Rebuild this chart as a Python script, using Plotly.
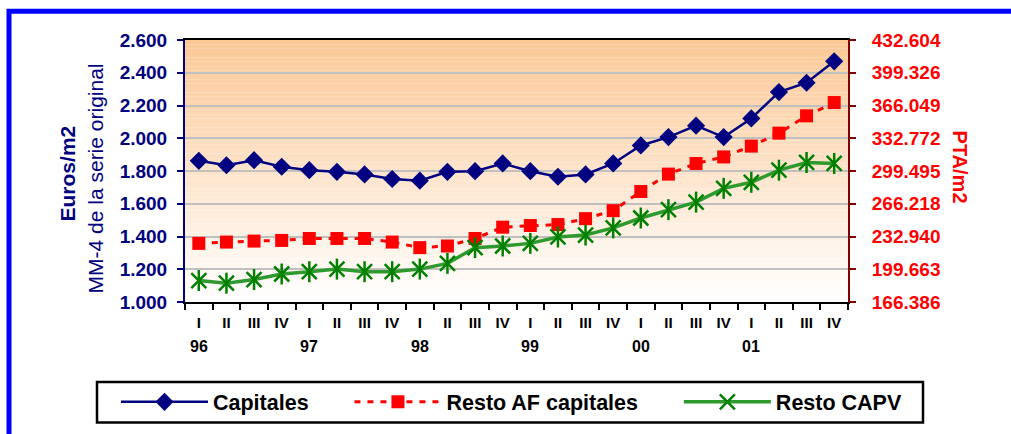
import plotly.graph_objects as go

# Quarterly series, 1996-2001 (euros per m2, four-quarter moving average)
years = ["96", "97", "98", "99", "00", "01"]
quarters = ["I", "II", "III", "IV"]

capitales = [1862, 1835, 1866, 1826, 1805, 1795, 1779, 1751, 1741, 1795, 1799, 1846,
             1799, 1765, 1779, 1846, 1956, 2007, 2077, 2007, 2121, 2282, 2339, 2470]
resto_af = [1358, 1366, 1372, 1376, 1388, 1388, 1388, 1366, 1332, 1342, 1388, 1457,
            1467, 1473, 1509, 1558, 1675, 1781, 1846, 1886, 1952, 2031, 2137, 2218]
resto_capv = [1131, 1115, 1137, 1171, 1185, 1201, 1185, 1185, 1201, 1236, 1332, 1342,
              1358, 1397, 1409, 1453, 1513, 1564, 1610, 1694, 1731, 1805, 1852, 1846]

# Left axis (euros) and right axis (pesetas) ticks
euro_ticks = [1000, 1200, 1400, 1600, 1800, 2000, 2200, 2400, 2600]
euro_labels = ["1.000", "1.200", "1.400", "1.600", "1.800", "2.000", "2.200", "2.400", "2.600"]
pta_labels = ["166.386", "199.663", "232.940", "266.218", "299.495",
              "332.772", "366.049", "399.326", "432.604"]
EUR_TO_PTA = 166.386

categories = [f"{q} {y}" for y in years for q in quarters]
tick_text = [q for y in years for q in quarters]

W, H = 1011, 434
PL, PR, PT, PB = 185, 848, 40, 305


def px_x(px):
    return (px - PL) / (PR - PL)


def px_y(py):
    return (PB - py) / (PB - PT)


NAVY = "#000080"
RED = "#FF0000"
GREEN = "#008000"
FONT = "Liberation Sans, Arial, sans-serif"
PAD = "\u00a0" * 6  # spacing between legend entries

fig = go.Figure()

fig.add_trace(go.Scatter(
    x=categories, y=capitales, name="Capitales" + PAD, mode="lines+markers",
    line=dict(color=NAVY, width=2.5),
    marker=dict(symbol="diamond", size=14, color=NAVY),
))
fig.add_trace(go.Scatter(
    x=categories, y=resto_af, name="Resto AF capitales" + PAD, mode="lines+markers",
    line=dict(color=RED, width=3, dash="6px,7px"),
    marker=dict(symbol="square", size=13, color=RED),
))
fig.add_trace(go.Scatter(
    x=categories, y=resto_capv, name="Resto CAPV", mode="lines+markers",
    line=dict(color="#2E9A2E", width=3.5),
    marker=dict(symbol="x-thin-open", size=15, color=GREEN,
                line=dict(color=GREEN, width=2.5)),
))
# vertical stroke completing the star marker
fig.add_trace(go.Scatter(
    x=categories, y=resto_capv, mode="markers", showlegend=False, hoverinfo="skip",
    marker=dict(symbol="line-ns-open", size=15, color=GREEN,
                line=dict(color=GREEN, width=2.5)),
))
# invisible trace carrying the peseta axis
fig.add_trace(go.Scatter(
    x=categories, y=[v * EUR_TO_PTA for v in capitales], yaxis="y2",
    mode="none", showlegend=False, hoverinfo="skip",
))

# Plot-area gradient: peach at the top fading to white at the bottom
shapes = []
n = 60
top = (252, 200, 150)
bot = (255, 255, 255)
for i in range(n):
    t = i / (n - 1)
    c = tuple(round(top[k] + (bot[k] - top[k]) * t) for k in range(3))
    shapes.append(dict(
        type="rect", xref="paper", yref="paper", layer="below",
        x0=0, x1=1, y0=1 - (i + 1) / n, y1=1 - i / n,
        line=dict(width=0), fillcolor=f"rgb{c}",
    ))
# outer blue frame
shapes.append(dict(
    type="rect", xref="paper", yref="paper", layer="above",
    x0=px_x(9), y0=px_y(11), x1=px_x(1040), y1=px_y(470),
    line=dict(color="#0000FF", width=5), fillcolor="rgba(0,0,0,0)",
))
# legend box
shapes.append(dict(
    type="rect", xref="paper", yref="paper", layer="below",
    x0=px_x(97), y0=px_y(386), x1=px_x(923), y1=px_y(427),
    line=dict(color="black", width=2.5), fillcolor="white",
))

annotations = [
    dict(text="<b>Euros/m2</b>", xref="paper", yref="paper", x=px_x(67), y=px_y(175),
         xanchor="center", yanchor="middle", textangle=-90, showarrow=False,
         font=dict(family=FONT, size=21, color=NAVY)),
    dict(text="MM-4 de la serie original", xref="paper", yref="paper", x=px_x(95), y=px_y(180),
         xanchor="center", yanchor="middle", textangle=-90, showarrow=False,
         font=dict(family=FONT, size=21, color=NAVY)),
    dict(text="<b>PTA/m2</b>", xref="paper", yref="paper", x=px_x(960), y=px_y(168),
         xanchor="center", yanchor="middle", textangle=90, showarrow=False,
         font=dict(family=FONT, size=20, color=RED)),
]
for y in years:
    annotations.append(dict(
        text=f"<b>{y}</b>", x=f"I {y}", xref="x", yref="paper", y=px_y(350),
        xanchor="center", yanchor="middle", showarrow=False,
        font=dict(family=FONT, size=16, color="black"),
    ))

fig.update_layout(
    width=W, height=H, autosize=False,
    margin=dict(l=PL, r=W - PR, t=PT, b=H - PB, pad=0),
    paper_bgcolor="white", plot_bgcolor="rgba(0,0,0,0)",
    font=dict(family=FONT),
    shapes=shapes, annotations=annotations,
    xaxis=dict(
        type="category", tickmode="array", tickvals=categories, ticktext=tick_text,
        tickson="boundaries", ticks="outside", ticklen=6, tickwidth=2, tickcolor="black",
        showline=True, linecolor="black", linewidth=2, mirror=True,
        showgrid=False, ticklabelstandoff=6,
        tickfont=dict(family=FONT, size=15, color="black", weight="bold"),
        range=[-0.5, len(categories) - 0.5],
    ),
    yaxis=dict(
        range=[1000, 2600], tickmode="array", tickvals=euro_ticks, ticktext=euro_labels,
        ticks="outside", ticklen=6, tickwidth=2, tickcolor=NAVY,
        showline=True, linecolor=NAVY, linewidth=2,
        showgrid=True, gridcolor="#C0C0C0", gridwidth=2, zeroline=False,
        ticklabelstandoff=6,
        tickfont=dict(family=FONT, size=19, color=NAVY, weight="bold"),
    ),
    yaxis2=dict(
        overlaying="y", side="right",
        range=[1000 * EUR_TO_PTA, 2600 * EUR_TO_PTA], tickmode="array",
        tickvals=[v * EUR_TO_PTA for v in euro_ticks],
        ticktext=[f"<b>{t}</b>" for t in pta_labels],
        ticks="outside", ticklen=6, tickwidth=2, tickcolor="#800000",
        showline=True, linecolor="#800000", linewidth=2,
        showgrid=False, zeroline=False, ticklabelstandoff=12,
        tickfont=dict(family=FONT, size=19, color=RED, weight="bold"),
    ),
    legend=dict(
        orientation="h", x=px_x(116), xanchor="left", y=px_y(406), yanchor="middle",
        bgcolor="rgba(0,0,0,0)", borderwidth=0,
        itemwidth=87, font=dict(family=FONT, size=21.5, color="black", weight="bold"),
    ),
    hovermode=False,
)

fig.write_html("out.html")
